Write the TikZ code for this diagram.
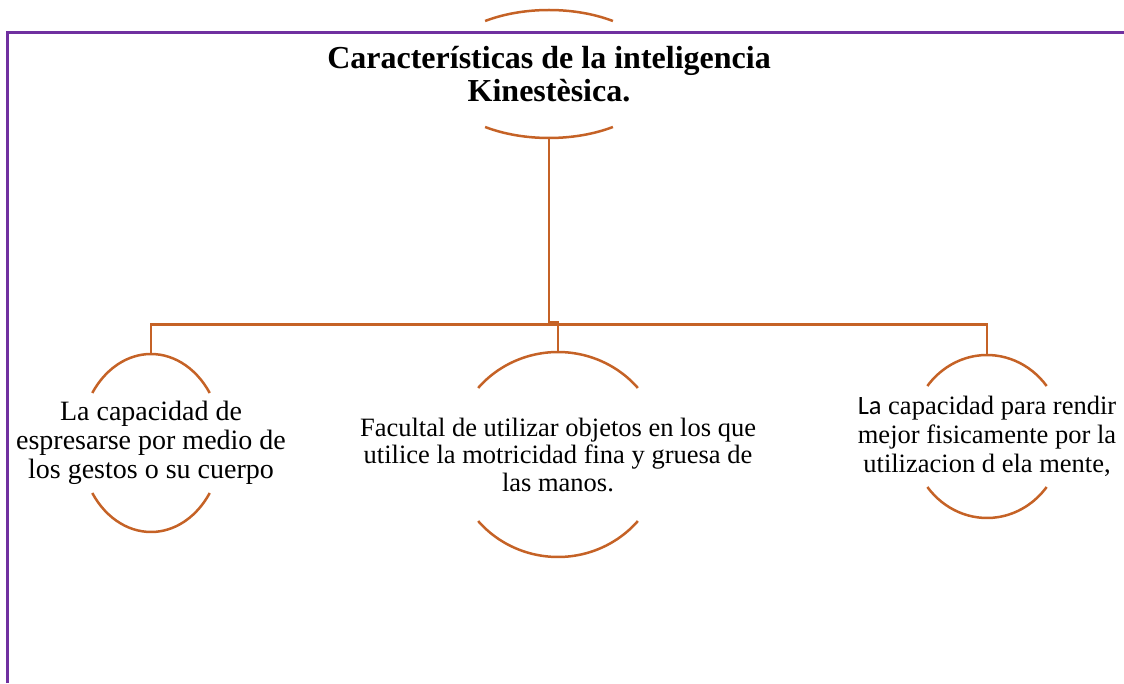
\documentclass[tikz,border=0pt]{standalone}
\usepackage{fontspec}
\setmainfont{Liberation Serif}
\newfontfamily\calib{Carlito}
\usetikzlibrary{calc}
\definecolor{brn}{RGB}{197,98,38}
\definecolor{purp}{RGB}{112,48,160}
\newcommand\ovalarcs[4]{%
  \draw[arcline] ($(#1)+({#2*cos(#4)},{#3*sin(#4)})$) arc[start angle=#4, end angle=180-#4, x radius=#2pt, y radius=#3pt];
  \draw[arcline] ($(#1)+({#2*cos(180+#4)},{#3*sin(180+#4)})$) arc[start angle=180+#4, end angle=360-#4, x radius=#2pt, y radius=#3pt];}
\begin{document}
\begin{tikzpicture}[x=1pt,y=1pt,
  conn/.style={draw=brn,line width=2.7pt},
  arcline/.style={draw=brn,line width=2.5pt},
  txt/.style={align=center,inner sep=0pt}]
\useasboundingbox (0,0) rectangle (1124,683);
\draw[purp,line width=2.2pt] (7.5,0) -- (7.5,650.5) -- (1124,650.5);

\node[txt,font=\bfseries\fontsize{32}{33}\selectfont] (title) at (549,609) {Características de la inteligencia\\Kinestèsica.};
\node[txt,font=\fontsize{28}{29}\selectfont] (left) at (151,240) {La capacidad de\\espresarse por medio de\\los gestos o su cuerpo};
\node[txt,font=\fontsize{26.5}{27.5}\selectfont] (mid) at (558,228.5) {Facultal de utilizar objetos en los que\\utilice la motricidad fina y gruesa de\\las manos.};
\node[txt,font=\fontsize{26.5}{29}\selectfont] (right) at (987,246.5) {{\calib La} capacidad para rendir\\mejor fisicamente por la\\utilizacion d ela mente,};

\ovalarcs{title}{114}{64}{55.9}
\ovalarcs{left}{71}{89}{34.2}
\ovalarcs{mid}{105}{102.5}{40.5}
\ovalarcs{right}{76}{81.5}{38.3}

\coordinate (tb) at ($(title)+(0,-63)$);
\coordinate (lt) at ($(left)+(0,89)$);
\coordinate (mt) at ($(mid)+(0,102.5)$);
\coordinate (rt) at ($(right)+(0,81.5)$);
\draw[conn] (tb) -- ++(0,-187.5) coordinate (bus) -| (lt);
\draw[conn] (bus) -| (rt);
\draw[conn] (mt) |- ($(bus)+(0,2)$);
\end{tikzpicture}
\end{document}
